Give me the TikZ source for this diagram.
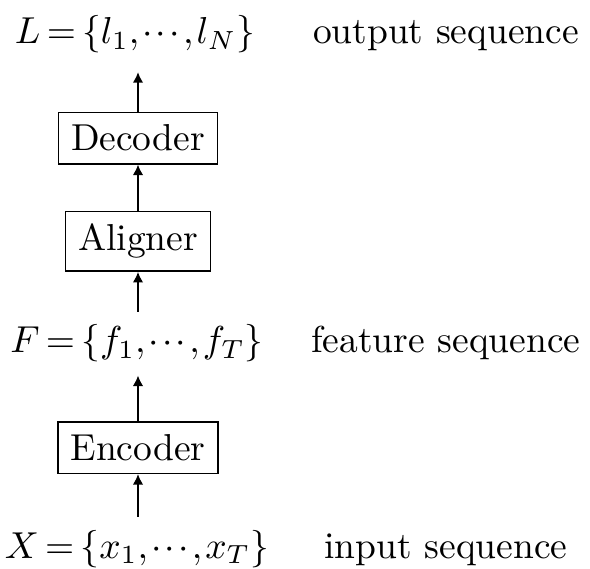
\documentclass[tikz,border=0pt]{standalone}
\usetikzlibrary{arrows.meta}
\tikzset{
  blk/.style={draw, line width=0.4pt, inner sep=3.33pt},
  seq/.style={anchor=base, inner sep=3.33pt},
  lbl/.style={anchor=base, inner sep=0pt},
  flow/.style={-{Latex[length=2.8pt,width=2.8pt]}, line width=0.4pt},
}
\newcommand{\tightmath}[1]{$\thickmuskip=3mu\thinmuskip=1.5mu #1$}
\begin{document}
\begin{tikzpicture}[x=0.26667pt,y=-0.26667pt]
\useasboundingbox (0,0) rectangle (590,569);
% left column
\node[seq] (L) at (135,44) {\tightmath{L=\{l_1,\cdots,l_N\}}};
\node[blk, anchor=base] (dec) at (138,151) {Decoder};
\node[blk, anchor=base] (ali) at (138,251) {Aligner};
\node[seq] (F) at (137,353) {\tightmath{F=\{f_1,\cdots,f_T\}}};
\node[blk, anchor=base] (enc) at (138,460.5) {Encoder};
\node[seq] (X) at (137,558) {\tightmath{X=\{x_1,\cdots,x_T\}}};
% right column
\node[lbl] (lo) at (446,44) {output sequence};
\node[lbl] (lf) at (446,353) {feature sequence};
\node[lbl] (li) at (446,558) {input sequence};
% arrows
\draw[flow] (X.north -| enc.south) -- (enc.south);
\draw[flow] (enc.north) -- (F.south -| enc.north);
\draw[flow] (F.north -| ali.south) -- (ali.south);
\draw[flow] (ali.north) -- (dec.south);
\draw[flow, shorten >=1.5pt] (dec.north) -- (L.south -| dec.north);
\end{tikzpicture}
\end{document}
